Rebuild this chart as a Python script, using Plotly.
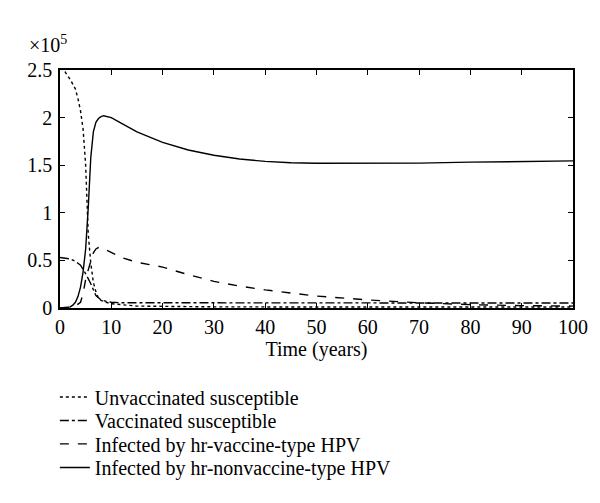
import plotly.graph_objects as go

# Values in units of 1e5 (axis shows "x10^5")
t_unvac = [0, 1, 2, 3, 3.5, 4, 4.5, 5, 5.5, 6, 6.5, 7, 7.5, 8, 9, 10, 15, 30, 60, 100]
unvaccinated = [2.52, 2.48, 2.40, 2.30, 2.20, 2.07, 1.88, 1.50, 0.78, 0.47, 0.27, 0.17, 0.10,
                0.08, 0.06, 0.045, 0.02, 0.012, 0.01, 0.01]

t_vac = [0, 1, 2, 3, 4, 5, 6, 7, 8, 9, 10, 12, 20, 40, 60, 80, 100]
vaccinated = [0.53, 0.525, 0.515, 0.49, 0.45, 0.36, 0.255, 0.13, 0.085, 0.07, 0.06, 0.055,
              0.055, 0.054, 0.053, 0.052, 0.052]

t_vtype = [0, 2, 3, 4, 4.5, 5, 5.5, 6, 6.5, 7, 7.5, 8, 9, 10, 12, 15, 20, 25, 30, 35, 40,
           50, 60, 70, 80, 90, 100]
infected_vtype = [0, 0.005, 0.02, 0.06, 0.15, 0.30, 0.40, 0.50, 0.58, 0.62, 0.635, 0.635,
                  0.61, 0.58, 0.53, 0.48, 0.43, 0.35, 0.28, 0.23, 0.19, 0.125, 0.085, 0.055,
                  0.035, 0.025, 0.02]

t_nvtype = [0, 1, 2, 2.5, 3, 3.5, 4, 4.5, 5, 5.5, 6, 6.5, 7, 7.5, 8, 8.5, 9, 10, 12, 15, 20,
            25, 30, 35, 40, 45, 50, 60, 70, 80, 90, 100]
infected_nvtype = [0, 0.003, 0.012, 0.03, 0.06, 0.12, 0.22, 0.38, 0.62, 1.05, 1.58, 1.85,
                   1.95, 1.99, 2.01, 2.02, 2.015, 2.0, 1.94, 1.85, 1.74, 1.66, 1.605, 1.565,
                   1.54, 1.525, 1.52, 1.518, 1.522, 1.532, 1.54, 1.545]

names = ["Unvaccinated susceptible", "Vaccinated susceptible",
         "Infected by hr-vaccine-type HPV", "Infected by hr-nonvaccine-type HPV"]
x_ticks = [0, 10, 20, 30, 40, 50, 60, 70, 80, 90, 100]
y_ticks = [0, 0.5, 1, 1.5, 2, 2.5]
y_ticktext = ["0", "0.5", "1", "1.5", "2", "2.5"]

FONT = "Liberation Serif"
series = [(t_unvac, unvaccinated, "dot"), (t_vac, vaccinated, "dashdot"),
          (t_vtype, infected_vtype, "dash"), (t_nvtype, infected_nvtype, "solid")]
legend_ids = ["legend", "legend2", "legend3", "legend4"]
legend_rows = [-0.374, -0.473, -0.571, -0.670]

fig = go.Figure()
for (tx, vy, dash), name, lid in zip(series, names, legend_ids):
    fig.add_trace(go.Scatter(x=tx, y=vy, mode="lines", name=name, legend=lid,
                             line=dict(color="black", width=1.4, dash=dash)))

layout_legends = {}
for lid, ly in zip(legend_ids, legend_rows):
    layout_legends[lid] = dict(x=-0.01, y=ly, xanchor="left", yanchor="middle",
                               bgcolor="rgba(0,0,0,0)", borderwidth=0,
                               font=dict(family=FONT, size=20, color="black"))

axis_common = dict(showline=True, linecolor="black", linewidth=1.5, mirror="ticks",
                   ticks="inside", ticklen=5, tickwidth=1, tickcolor="black",
                   showgrid=False, zeroline=False,
                   tickfont=dict(family=FONT, size=20, color="black"))

fig.update_layout(
    width=600, height=503,
    margin=dict(l=52, r=35, t=62, b=203),
    paper_bgcolor="white", plot_bgcolor="white",
    showlegend=True,
    font=dict(family=FONT, size=20, color="black"),
    xaxis=dict(range=[0, 100], tickvals=x_ticks, **axis_common,
               title=dict(text="Time (years)", standoff=2,
                          font=dict(family=FONT, size=20, color="black"))),
    yaxis=dict(range=[0, 2.5], tickvals=y_ticks, ticktext=y_ticktext, ticklabelstandoff=2,
               **axis_common),
    annotations=[dict(text="×10<sup>5</sup>", xref="paper", yref="paper",
                      x=-0.064, y=1.11, xanchor="left", yanchor="middle",
                      showarrow=False, font=dict(family=FONT, size=20, color="black"))],
    **layout_legends,
)

fig.write_html("out.html")
